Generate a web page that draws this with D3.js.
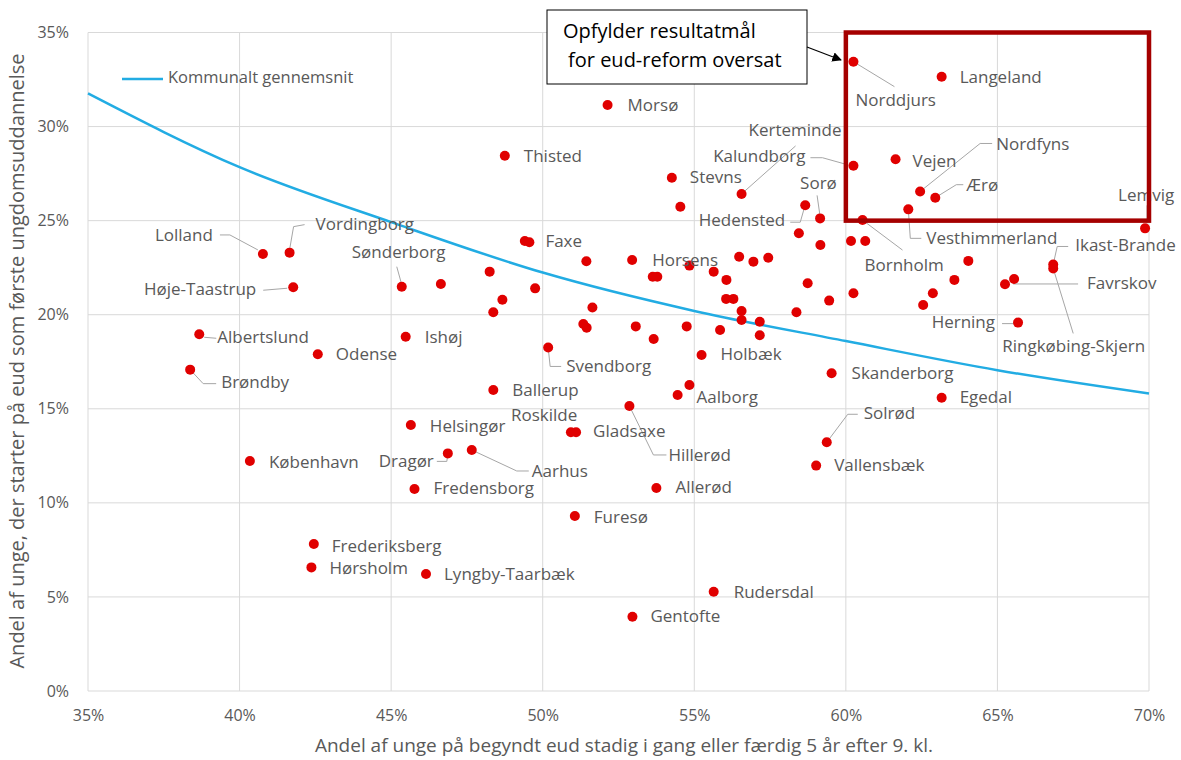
<!DOCTYPE html>
<html>
<head>
<meta charset="utf-8">
<script src="https://cdn.jsdelivr.net/npm/d3@7"></script>
<style>
  body { margin: 0; background: #fff; }
  text { font-family: "Open Sans", sans-serif; }
</style>
</head>
<body>
<div id="wrapper"></div>
<script>
// kommuner: navn (tom = ingen label), x = andel i gang/færdig, y = andel der starter på eud (procent)
const names = [
  "Norddjurs", "Langeland", "Morsø", "Thisted", "Vejen", "Kalundborg", "Stevns", "Kerteminde",
  "Nordfyns", "Ærø", "", "Hedensted", "Vesthimmerland", "Sorø", "Bornholm", "Lemvig",
  "", "", "", "", "Lolland", "Vordingborg", "", "Faxe",
  "", "Horsens", "", "", "", "", "Ikast-Brande", "Ringkøbing-Skjern",
  "", "", "", "", "", "", "", "",
  "Favrskov", "", "", "Sønderborg", "Høje-Taastrup", "", "", "",
  "", "", "", "", "", "", "", "",
  "", "", "", "Herning", "", "", "", "",
  "", "", "", "Ishøj", "Albertslund", "Svendborg", "Odense", "Holbæk",
  "Brøndby", "Skanderborg", "", "Aalborg", "Ballerup", "Egedal", "Hillerød", "Helsingør",
  "Roskilde", "Gladsaxe", "Solrød", "Aarhus", "Dragør", "København", "Vallensbæk", "Fredensborg",
  "Allerød", "Furesø", "Frederiksberg", "Hørsholm", "Lyngby-Taarbæk", "Rudersdal", "Gentofte"
];
const xValues = [
  60.25, 63.16, 52.14, 48.75, 61.64, 60.25, 54.26, 56.56,
  62.45, 62.95, 54.54, 58.66, 62.06, 59.15, 60.55, 69.87,
  58.45, 59.16, 60.17, 60.64, 40.77, 41.65, 49.41, 49.56,
  51.44, 52.95, 56.48, 56.95, 57.44, 64.04, 66.84, 66.84,
  54.84, 55.64, 48.25, 53.63, 53.78, 56.06, 58.74, 63.58,
  65.55, 65.25, 46.64, 45.35, 41.77, 49.75, 60.25, 62.87,
  48.67, 56.05, 56.29, 59.45, 62.55, 51.64, 48.37, 56.56,
  58.37, 56.56, 57.16, 65.68, 51.34, 51.45, 53.07, 54.75,
  55.85, 57.16, 53.66, 45.48, 38.67, 50.18, 42.58, 55.24,
  38.37, 59.53, 54.84, 54.45, 48.37, 63.16, 52.86, 45.65,
  50.93, 51.10, 59.37, 47.66, 46.87, 40.34, 59.02, 45.77,
  53.75, 51.06, 42.45, 42.37, 46.15, 55.64, 52.96
];
const yValues = [
  33.45, 32.65, 31.15, 28.45, 28.26, 27.92, 27.28, 26.42,
  26.55, 26.22, 25.74, 25.82, 25.60, 25.12, 25.03, 24.59,
  24.33, 23.71, 23.92, 23.92, 23.23, 23.30, 23.92, 23.85,
  22.84, 22.91, 23.08, 22.82, 23.03, 22.86, 22.67, 22.46,
  22.61, 22.29, 22.29, 22.02, 22.02, 21.85, 21.67, 21.85,
  21.90, 21.62, 21.63, 21.49, 21.46, 21.40, 21.14, 21.14,
  20.80, 20.84, 20.84, 20.75, 20.52, 20.38, 20.13, 20.20,
  20.13, 19.72, 19.63, 19.58, 19.51, 19.31, 19.38, 19.38,
  19.19, 18.91, 18.71, 18.83, 18.96, 18.26, 17.90, 17.86,
  17.08, 16.89, 16.26, 15.73, 16.00, 15.59, 15.15, 14.14,
  13.75, 13.75, 13.22, 12.81, 12.63, 12.22, 11.98, 10.74,
  10.79, 9.30, 7.81, 6.57, 6.22, 5.28, 3.95
];
// kommunalt gennemsnit, aflæst langs kurven
const avgX = [35, 40, 45, 50, 55, 60, 65, 70];
const avgY = [31.76, 27.84, 24.92, 22.24, 20.2, 18.6, 17.05, 15.81];

const xTicks = [35, 40, 45, 50, 55, 60, 65, 70];
const yTicks = [0, 5, 10, 15, 20, 25, 30, 35];
// målområde
const targetX = [60, 70];
const targetY = [25, 35];

const dataset = names.map((n, i) => ({ name: n, x: xValues[i], y: yValues[i] }));

// label-placering i pixels i forhold til punktet: [dx, dy, anchor, leader-linje]
const labelLayout = {
  "Norddjurs": [2, 40, "start", [[0, 0], [41, 25]]],
  "Langeland": [18, 2, "start"],
  "Morsø": [20, 2, "start"],
  "Thisted": [19, 2, "start"],
  "Stevns": [18, 1, "start"],
  "Kerteminde": [7, -62, "start", [[0, 0], [54, -48]]],
  "Kalundborg": [-48, -8, "end", [[-6, -1], [-31, -8], [-43, -8]]],
  "Vejen": [17, 3, "start"],
  "Nordfyns": [76, -46, "start", [[0, 0], [60, -48], [72, -48]]],
  "Ærø": [31, -11, "start", [[0, 0], [21, -13], [28, -13]]],
  "Hedensted": [-20, 16, "end", [[-1, 3], [-5, 17], [-15, 17]]],
  "Sorø": [-20, -34, "start", [[0, -2], [-3, -23]]],
  "Vesthimmerland": [18, 30, "start", [[0, 0], [2, 29], [13, 29]]],
  "Bornholm": [2, 46, "start", [[0, 0], [40, 30]]],
  "Lemvig": [-27, -32, "start", [[2, -5], [2, -23]]],
  "Ikast-Brande": [22, -18, "start", [[0, 0], [4, -18], [15, -18]]],
  "Ringkøbing-Skjern": [-51, 79, "start", [[0, 0], [20, 65]]],
  "Favrskov": [73, 5, "start", [[-1, 5], [64, 5]]],
  "Herning": [-23, 1, "end", [[-3, 1], [-16, 1]]],
  "Skanderborg": [20, 1, "start"],
  "Egedal": [18, 1, "start"],
  "Solrød": [37, -28, "start", [[0, 0], [21, -28], [31, -28]]],
  "Vallensbæk": [18, 1, "start"],
  "Lolland": [-50, -17, "end", [[-5, -4], [-33, -19], [-43, -19]]],
  "Vordingborg": [26, -27, "start", [[0, -3], [4, -26], [15, -28]]],
  "Sønderborg": [-50, -33, "start", [[0, -2], [-5, -20]]],
  "Høje-Taastrup": [-37, 3, "end", [[-6, 1], [-30, 3]]],
  "Albertslund": [18, 4, "start", [[5, 3], [17, 4]]],
  "Odense": [18, 1, "start"],
  "Brøndby": [31, 14, "start", [[0, 0], [13, 14], [26, 14]]],
  "København": [19, 2, "start"],
  "Ishøj": [19, 2, "start"],
  "Faxe": [16, 0, "start"],
  "Horsens": [20, 1, "start"],
  "Svendborg": [18, 20, "start", [[0, 0], [2, 19], [13, 19]]],
  "Holbæk": [19, 0, "start"],
  "Ballerup": [19, 1, "start"],
  "Aalborg": [19, 3, "start"],
  "Roskilde": [-60, -16, "start"],
  "Gladsaxe": [17, 0, "start"],
  "Hillerød": [39, 50, "start", [[0, 0], [24, 49], [37, 49]]],
  "Helsingør": [19, 2, "start"],
  "Dragør": [-14, 9, "end", [[0, 0], [-1, 8], [-11, 8]]],
  "Aarhus": [60, 22, "start", [[0, 0], [45, 21], [57, 21]]],
  "Fredensborg": [19, 1, "start"],
  "Allerød": [19, 0, "start"],
  "Furesø": [19, 2, "start"],
  "Frederiksberg": [18, 3, "start"],
  "Hørsholm": [18, 2, "start"],
  "Lyngby-Taarbæk": [18, 1, "start"],
  "Rudersdal": [20, 2, "start"],
  "Gentofte": [18, 1, "start"]
};

const dimensions = {
  width: 1181,
  height: 760,
  margin: { top: 32.5, right: 32, bottom: 69, left: 88 }
};
dimensions.bounded_width = dimensions.width - dimensions.margin.left - dimensions.margin.right;
dimensions.bounded_height = dimensions.height - dimensions.margin.top - dimensions.margin.bottom;

const wrapper = d3.select("#wrapper")
  .append("svg")
  .attr("width", dimensions.width)
  .attr("height", dimensions.height);

const defs = wrapper.append("defs");
defs.append("marker")
  .attr("id", "arrow")
  .attr("viewBox", "0 0 10 10")
  .attr("refX", 9).attr("refY", 5)
  .attr("markerWidth", 8).attr("markerHeight", 8)
  .attr("orient", "auto")
  .append("path")
  .attr("d", "M0,0 L10,5 L0,10 z")
  .attr("fill", "#000");

const bounds = wrapper.append("g")
  .attr("transform", `translate(${dimensions.margin.left},${dimensions.margin.top})`);

const x_scale = d3.scaleLinear().domain([35, 70]).range([0, dimensions.bounded_width]);
const y_scale = d3.scaleLinear().domain([0, 35]).range([dimensions.bounded_height, 0]);

// gitter
bounds.append("g").selectAll("line").data(xTicks).join("line")
  .attr("x1", d => x_scale(d)).attr("x2", d => x_scale(d))
  .attr("y1", 0).attr("y2", dimensions.bounded_height)
  .attr("stroke", "#d9d9d9").attr("stroke-width", 1);
bounds.append("g").selectAll("line").data(yTicks).join("line")
  .attr("x1", 0).attr("x2", dimensions.bounded_width)
  .attr("y1", d => y_scale(d)).attr("y2", d => y_scale(d))
  .attr("stroke", "#d9d9d9").attr("stroke-width", 1);

// akser (kun tekst)
const x_axis = bounds.append("g")
  .attr("transform", `translate(0,${dimensions.bounded_height})`)
  .call(d3.axisBottom(x_scale).tickValues(xTicks).tickSize(0).tickPadding(19).tickFormat(d => d + "%"));
const y_axis = bounds.append("g")
  .call(d3.axisLeft(y_scale).tickValues(yTicks).tickSize(0).tickPadding(19).tickFormat(d => d + "%"));
[x_axis, y_axis].forEach(a => {
  a.select(".domain").remove();
  a.selectAll("text")
    .attr("fill", "#595959")
    .style("font-size", "16px")
    .style("font-family", "'Open Sans', sans-serif");
});

wrapper.append("text")
  .attr("x", 624).attr("y", 747)
  .attr("text-anchor", "middle").attr("dominant-baseline", "middle")
  .attr("fill", "#595959").style("font-size", "19px")
  .text("Andel af unge på begyndt eud stadig i gang eller færdig 5 år efter 9. kl.");

wrapper.append("text")
  .attr("transform", "translate(19,361) rotate(-90)")
  .attr("text-anchor", "middle").attr("dominant-baseline", "middle")
  .attr("fill", "#595959").style("font-size", "20px")
  .text("Andel af unge, der starter på eud som første ungdomsuddannelse");

// gennemsnitskurve
const line_gen = d3.line()
  .x((d, i) => x_scale(avgX[i]))
  .y(d => y_scale(d))
  .curve(d3.curveMonotoneX);
bounds.append("path")
  .datum(avgY)
  .attr("d", line_gen)
  .attr("fill", "none")
  .attr("stroke", "#22ace3")
  .attr("stroke-width", 2.5);

// legend
wrapper.append("line")
  .attr("x1", 122).attr("x2", 163).attr("y1", 79).attr("y2", 79)
  .attr("stroke", "#22ace3").attr("stroke-width", 2.5);
wrapper.append("text")
  .attr("x", 168).attr("y", 79).attr("dominant-baseline", "middle")
  .attr("fill", "#595959").style("font-size", "16.5px")
  .text("Kommunalt gennemsnit");

// leader-linjer
const labelled = dataset.filter(d => d.name && labelLayout[d.name]);
bounds.append("g").selectAll("polyline")
  .data(labelled.filter(d => labelLayout[d.name][3]))
  .join("polyline")
  .attr("points", d => labelLayout[d.name][3]
    .map(p => [x_scale(d.x) + p[0], y_scale(d.y) + p[1]].join(",")).join(" "))
  .attr("fill", "none")
  .attr("stroke", "#a6a6a6")
  .attr("stroke-width", 1);

// punkter
bounds.append("g").selectAll("circle").data(dataset).join("circle")
  .attr("cx", d => x_scale(d.x))
  .attr("cy", d => y_scale(d.y))
  .attr("r", 5)
  .attr("fill", "#e00000");

// navne
bounds.append("g").selectAll("text").data(labelled).join("text")
  .attr("x", d => x_scale(d.x) + labelLayout[d.name][0])
  .attr("y", d => y_scale(d.y) + labelLayout[d.name][1])
  .attr("text-anchor", d => labelLayout[d.name][2])
  .attr("dominant-baseline", "middle")
  .attr("fill", "#595959")
  .style("font-size", "17px")
  .text(d => d.name);

// målområde (rød ramme)
bounds.append("rect")
  .attr("x", x_scale(targetX[0]))
  .attr("y", y_scale(targetY[1]))
  .attr("width", x_scale(targetX[1]) - x_scale(targetX[0]))
  .attr("height", y_scale(targetY[0]) - y_scale(targetY[1]))
  .attr("fill", "none")
  .attr("stroke", "#a50000")
  .attr("stroke-width", 4.5);

// annotation
const note = wrapper.append("g");
note.append("rect")
  .attr("x", 547).attr("y", 10).attr("width", 260).attr("height", 74)
  .attr("fill", "#fff").attr("stroke", "#000").attr("stroke-width", 1);
note.append("text")
  .attr("x", 563).attr("y", 33).attr("dominant-baseline", "middle")
  .attr("fill", "#000").style("font-size", "20px")
  .text("Opfylder resultatmål");
note.append("text")
  .attr("x", 568).attr("y", 62).attr("dominant-baseline", "middle")
  .attr("fill", "#000").style("font-size", "20px")
  .text("for eud-reform oversat");
note.append("line")
  .attr("x1", 807).attr("y1", 47).attr("x2", 841).attr("y2", 60)
  .attr("stroke", "#000").attr("stroke-width", 1.2)
  .attr("marker-end", "url(#arrow)");
</script>
</body>
</html>
